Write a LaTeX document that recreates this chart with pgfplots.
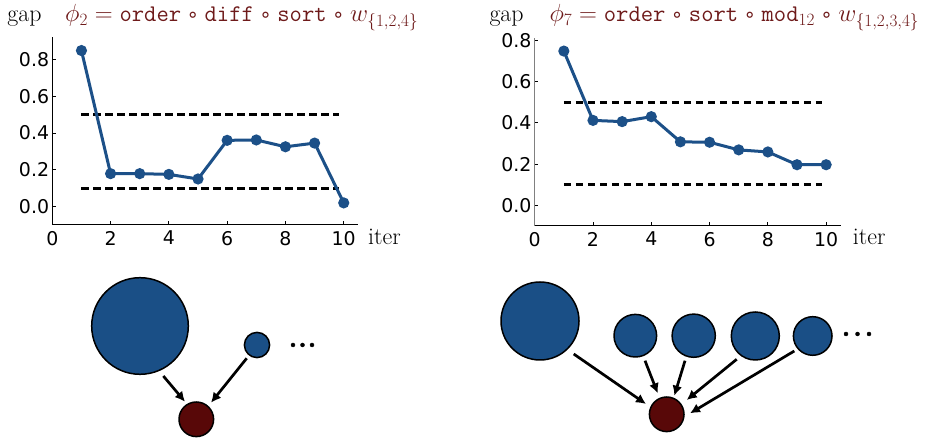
\documentclass[border=0pt]{standalone}
\usepackage{pgfplots}
\pgfplotsset{compat=1.18}
\usepackage{fontspec}
\newfontfamily\tickfont{DejaVu Sans}
\usetikzlibrary{arrows.meta}
\definecolor{lineblue}{RGB}{28,80,136}
\definecolor{circblue}{RGB}{26,79,134}
\definecolor{darkred}{RGB}{88,8,8}
\definecolor{titlered}{RGB}{110,26,26}
\newcommand{\rcirc}{\mathbin{\hbox{\tickfont\fontsize{20}{20}\selectfont ∘}}}

\pgfplotsset{
  gapplot/.style={
    scale only axis, width=306bp, height=187.7bp,
    axis x line=bottom, axis y line=left,
    axis line style={-, line width=1bp},
    xmin=0, xmax=10.5, xtick={0,2,4,6,8,10},
    ytick={0,0.2,0.4,0.6,0.8},
    tick align=inside, major tick length=3.5bp,
    tick style={black, line width=0.8bp},
    /pgf/number format/assume math mode=true,
    ticklabel style={font=\tickfont\fontsize{19}{19}\selectfont},
    yticklabel style={/pgf/number format/fixed, /pgf/number format/fixed zerofill, /pgf/number format/precision=1, inner sep=0bp, xshift=-3bp},
    xticklabel style={inner sep=0bp, yshift=-6bp},
    clip=false,
  },
  dashline/.style={black, line width=2.7bp, dash pattern=on 7.5bp off 4.5bp, forget plot},
  gapline/.style={lineblue, line width=3bp, mark=*, mark size=4bp, mark options={solid, fill=lineblue, draw=lineblue}},
}

\begin{document}
\begin{tikzpicture}[x=1bp,y=1bp]
\useasboundingbox (0,0) rectangle (932,438);

% left plot
\begin{axis}[gapplot, at={(52.3bp,213bp)}, anchor=south west, ymin=-0.1, ymax=0.92,
  y axis line style={black}]
\addplot[dashline] coordinates {(1,0.5) (9.85,0.5)};
\addplot[dashline] coordinates {(1,0.1) (9.85,0.1)};
\addplot[gapline] coordinates {
(1,0.848) (2,0.179) (3,0.179) (4,0.175) (5,0.150)
(6,0.360) (7,0.362) (8,0.325) (9,0.345) (10,0.020)};
\end{axis}

% right plot
\begin{axis}[gapplot, at={(534.7bp,212bp)}, anchor=south west, ymin=-0.1, ymax=0.81,
  y axis line style={gray}]
\addplot[dashline] coordinates {(1,0.5) (9.85,0.5)};
\addplot[dashline] coordinates {(1,0.1) (9.85,0.1)};
\addplot[gapline] coordinates {
(1,0.748) (2,0.412) (3,0.406) (4,0.430) (5,0.308)
(6,0.306) (7,0.269) (8,0.259) (9,0.197) (10,0.197)};
\end{axis}

% titles and labels
\node[anchor=base west, inner sep=0, font=\fontsize{24}{24}\selectfont] at (7.3,416) {gap};
\node[anchor=base west, inner sep=0, font=\fontsize{24}{24}\selectfont, text=titlered] at (65,416)
  {$\phi_2 = \texttt{order}\rcirc\texttt{diff}\rcirc\texttt{sort}\rcirc w_{\{1,2,4\}}$};
\node[anchor=base west, inner sep=0, font=\fontsize{24}{24}\selectfont] at (368,193.5) {iter};

\node[anchor=base west, inner sep=0, font=\fontsize{24}{24}\selectfont] at (489.3,416) {gap};
\node[anchor=base west, inner sep=0, font=\fontsize{24}{24}\selectfont, text=titlered] at (549.3,416)
  {$\phi_7 = \texttt{order}\rcirc\texttt{sort}\rcirc\texttt{mod}_{12}\rcirc w_{\{1,2,3,4\}}$};
\node[anchor=base west, inner sep=0, font=\fontsize{24}{24}\selectfont] at (852.7,193.5) {iter};

% diagrams
\begin{axis}[at={(0bp,0bp)}, anchor=south west, scale only axis, width=932bp, height=438bp,
  xmin=0, xmax=932, ymin=0, ymax=438, hide axis, clip=false]
% left diagram
\addplot[only marks, mark=*, mark size=48.3bp, mark options={fill=circblue, draw=black, line width=1.5bp}] coordinates {(140,112)};
\addplot[only marks, mark=*, mark size=12.6bp, mark options={fill=circblue, draw=black, line width=1.5bp}] coordinates {(257,93)};
\addplot[only marks, mark=*, mark size=17.3bp, mark options={fill=darkred, draw=black, line width=1.5bp}] coordinates {(196.3,18.7)};
\addplot[only marks, mark=*, mark size=2bp, mark options={fill=black, draw=black}] coordinates {(293,93) (302.5,93) (312,93)};
\addplot[-{Latex[length=10bp,width=10bp]}, line width=2.7bp] coordinates {(163.3,62) (185,36.3)};
\addplot[-{Latex[length=10bp,width=10bp]}, line width=2.7bp] coordinates {(246.7,79.7) (211,35.3)};
% right diagram
\addplot[only marks, mark=*, mark size=39bp, mark options={fill=circblue, draw=black, line width=1.5bp}] coordinates {(540,117)};
\addplot[only marks, mark=*, mark size=21.3bp, mark options={fill=circblue, draw=black, line width=1.5bp}] coordinates {(635.3,102.3)};
\addplot[only marks, mark=*, mark size=21.6bp, mark options={fill=circblue, draw=black, line width=1.5bp}] coordinates {(693.7,102.3)};
\addplot[only marks, mark=*, mark size=24bp, mark options={fill=circblue, draw=black, line width=1.5bp}] coordinates {(755.3,102)};
\addplot[only marks, mark=*, mark size=19.3bp, mark options={fill=circblue, draw=black, line width=1.5bp}] coordinates {(812.7,102)};
\addplot[only marks, mark=*, mark size=17.3bp, mark options={fill=darkred, draw=black, line width=1.5bp}] coordinates {(666.7,23.7)};
\addplot[only marks, mark=*, mark size=2bp, mark options={fill=black, draw=black}] coordinates {(846,104) (857.5,104) (869,104)};
\addplot[-{Latex[length=10bp,width=10bp]}, line width=2.7bp] coordinates {(573.7,84) (646,34)};
\addplot[-{Latex[length=10bp,width=10bp]}, line width=2.7bp] coordinates {(645,77.3) (657.7,44.7)};
\addplot[-{Latex[length=10bp,width=10bp]}, line width=2.7bp] coordinates {(685,77.3) (674.3,42.3)};
\addplot[-{Latex[length=10bp,width=10bp]}, line width=2.7bp] coordinates {(736.7,78.7) (686.7,38)};
\addplot[-{Latex[length=10bp,width=10bp]}, line width=2.7bp] coordinates {(794.3,87) (690,24.7)};
\end{axis}
\end{tikzpicture}
\end{document}
